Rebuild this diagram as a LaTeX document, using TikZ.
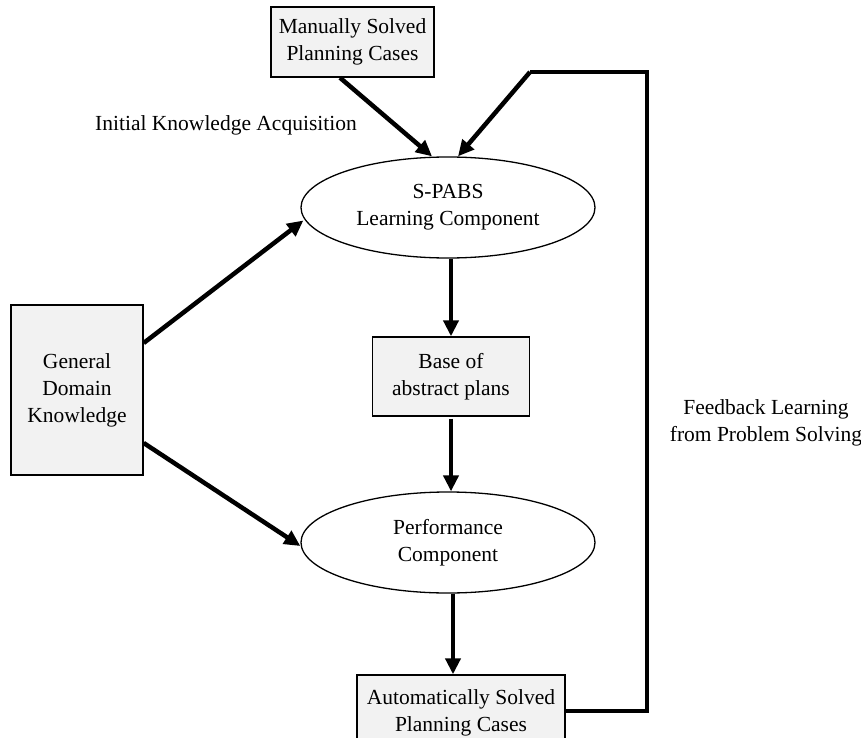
\documentclass[tikz,border=0pt]{standalone}
\usepackage{fontspec}
\setmainfont{Liberation Serif}
\usetikzlibrary{arrows.meta,shapes.geometric}
\definecolor{boxfill}{HTML}{F2F2F2}
\tikzset{
  every node/.style={font=\fontsize{21.5}{27}\selectfont, align=center, inner sep=0pt},
  graybox/.style={draw=black, line width=1.4pt, fill=boxfill},
  oval/.style={draw=black, line width=1.3pt, ellipse, minimum width=294pt, minimum height=101pt},
  flow/.style={line width=4.5pt, -{Triangle[length=16pt,width=15pt]}},
  fbline/.style={line width=4.5pt, line join=miter},
}
\begin{document}
\begin{tikzpicture}[x=1pt,y=-1pt]
\useasboundingbox (0,0) rectangle (861,738);
\node[graybox, minimum width=163pt, minimum height=70pt] (manual) at (352.5,42) {Manually Solved\\Planning Cases};
\node (initial) at (226,125) {Initial Knowledge Acquisition};
\node[oval] (spabs) at (448,207.5) {S-PABS\\Learning Component};
\node[graybox, minimum width=132pt, minimum height=170pt] (gdk) at (77,390) {General\\Domain\\Knowledge};
\node[graybox, minimum width=157pt, minimum height=79pt] (base) at (451,376.5) {Base of\\abstract plans};
\node[oval] (perf) at (448,542.5) {Performance\\Component};
\node[graybox, minimum width=208pt, minimum height=76pt] (auto) at (461,713) {Automatically Solved\\Planning Cases};
\node (feedback) at (766,423) {Feedback Learning\\from Problem Solving};
\coordinate (fb1) at (647,711);
\coordinate (fb2) at (647,72);
\coordinate (fb3) at (530,72);
% connectors
\draw[flow] ([xshift=-12.5pt]manual.south) -- ([xshift=-16pt]spabs.north);
\draw[fbline] ([yshift=2pt]auto.east) -- (fb1) -- (fb2) -- (fb3);
\draw[flow] (fb3) -- ([xshift=10pt]spabs.north);
\draw[flow] ([yshift=47pt]gdk.east) -- ([shift={(3pt,-13pt)}]spabs.west);
\draw[flow] ([yshift=-53pt]gdk.east) -- ([yshift=-3.5pt]perf.west);
\draw[flow] (base.north |- spabs.south) -- (base.north);
\draw[flow] ([yshift=-2pt]base.south) -- (base.south |- perf.north);
\draw[flow] ([xshift=5pt]perf.south) -- ([xshift=5pt]perf.south |- auto.north);
\end{tikzpicture}
\end{document}
